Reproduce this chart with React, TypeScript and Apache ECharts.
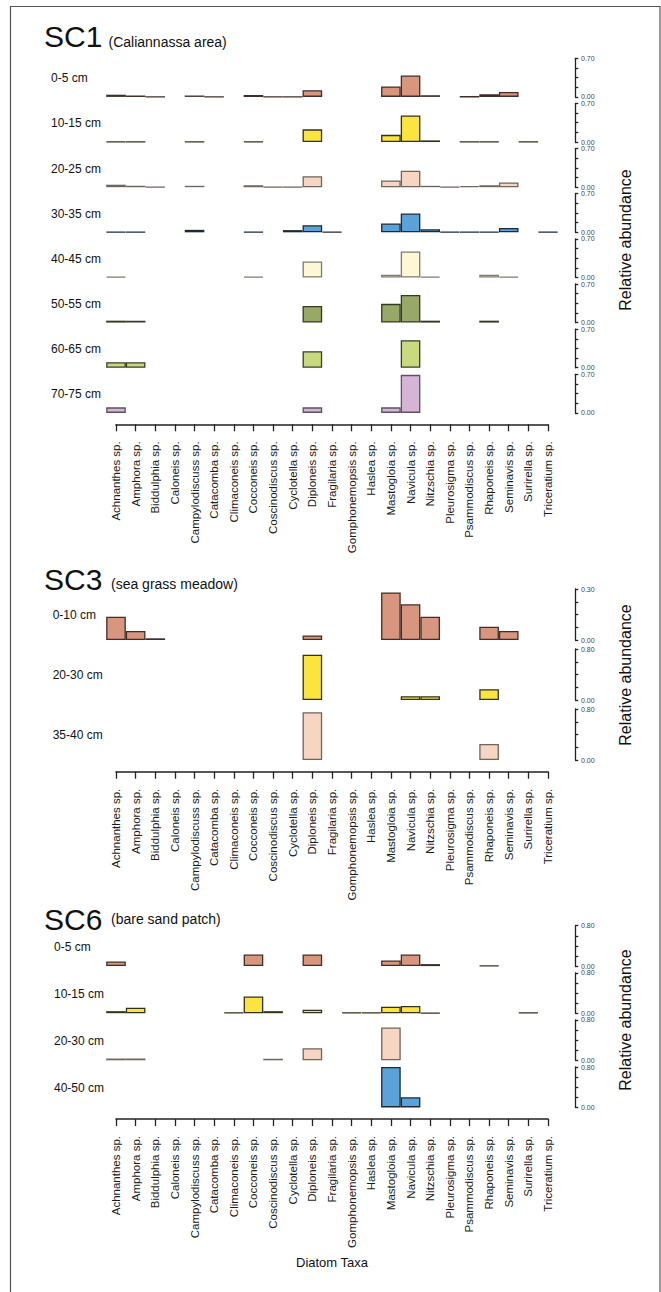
import React, { useEffect, useRef } from "react";
import * as echarts from "echarts";

const taxa = [
  "Achnanthes sp.", "Amphora sp.", "Biddulphia sp.", "Caloneis sp.", "Campylodiscuss sp.",
  "Catacomba sp.", "Climaconeis sp.", "Cocconeis sp.", "Coscinodiscus sp.", "Cyclotella sp.",
  "Diploneis sp.", "Fragilaria sp.", "Gomphonemopsis sp.", "Haslea sp.", "Mastogloia sp.",
  "Navicula sp.", "Nitzschia sp.", "Pleurosigma sp.", "Psammodiscus sp.", "Rhaponeis sp.",
  "Seminavis sp.", "Surirella sp.", "Triceratium sp.",
];

const n = null;

// SC1 (Caliannassa area)
const sc1Depths = ["0-5 cm", "10-15 cm", "20-25 cm", "30-35 cm", "40-45 cm", "50-55 cm", "60-65 cm", "70-75 cm"];
const sc1_0_5 = [0.04, 0.025, 0.003, n, 0.025, 0.003, n, 0.035, 0.003, 0.003, 0.12, n, n, n, 0.19, 0.39, 0.03, n, 0.005, 0.05, 0.09, n, n];
const sc1_10_15 = [0.008, 0.003, n, n, 0.003, n, n, 0.008, n, n, 0.23, n, n, n, 0.13, 0.48, 0.03, n, 0.003, 0.003, n, 0.003, n];
const sc1_20_25 = [0.045, 0.025, 0.005, n, 0.025, n, n, 0.035, 0.005, 0.005, 0.2, n, n, n, 0.12, 0.3, 0.025, 0.005, 0.02, 0.035, 0.085, n, n];
const sc1_30_35 = [0.008, 0.008, n, n, 0.045, n, n, 0.008, n, 0.04, 0.13, 0.008, n, n, 0.16, 0.34, 0.055, 0.008, 0.008, 0.008, 0.08, n, 0.008];
const sc1_40_45 = [0.012, n, n, n, n, n, n, 0.012, n, n, 0.29, n, n, n, 0.05, 0.47, 0.012, n, n, 0.05, 0.015, n, n];
const sc1_50_55 = [0.035, 0.035, n, n, n, n, n, n, n, n, 0.3, n, n, n, 0.34, 0.5, 0.035, n, n, 0.035, n, n, n];
const sc1_60_65 = [0.1, 0.1, n, n, n, n, n, n, n, n, 0.3, n, n, n, n, 0.5, n, n, n, n, n, n, n];
const sc1_70_75 = [0.1, n, n, n, n, n, n, n, n, n, 0.1, n, n, n, 0.1, 0.69, n, n, n, n, n, n, n];

// SC3 (sea grass meadow)
const sc3Depths = ["0-10 cm", "20-30 cm", "35-40 cm"];
const sc3_0_10 = [0.137, 0.053, 0.01, n, n, n, n, n, n, n, 0.027, n, n, n, 0.28, 0.21, 0.137, n, n, 0.078, 0.053, n, n];
const sc3_20_30 = [n, n, n, n, n, n, n, n, n, n, 0.71, n, n, n, n, 0.06, 0.06, n, n, 0.17, n, n, n];
const sc3_35_40 = [n, n, n, n, n, n, n, n, n, n, 0.75, n, n, n, n, n, n, n, n, 0.25, n, n, n];

// SC6 (bare sand patch)
const sc6Depths = ["0-5 cm", "10-15 cm", "20-30 cm", "40-50 cm"];
const sc6_0_5 = [0.09, n, n, n, n, n, n, 0.23, n, n, 0.23, n, n, n, 0.11, 0.23, 0.04, n, n, 0.01, n, n, n];
const sc6_10_15 = [0.04, 0.11, n, n, n, n, 0.01, 0.33, 0.04, n, 0.067, n, 0.01, 0.01, 0.13, 0.145, 0.005, n, n, n, n, 0.01, n];
const sc6_20_30 = [0.035, 0.035, n, n, n, n, n, n, 0.03, n, 0.24, n, n, n, 0.65, n, n, n, n, n, n, n, n];
const sc6_40_50 = [n, n, n, n, n, n, n, n, n, n, n, n, n, n, 0.8, 0.2, n, n, n, n, n, n, n];

const yMaxSC1 = 0.7;
const yMaxSC3 = [0.3, 0.8, 0.8];
const yMaxSC6 = 0.8;

const FILL = {
  salmon: "#d9967e",
  yellow: "#fbe43d",
  peach: "#f6d5c2",
  blue: "#5aa3d9",
  cream: "#fdf7d6",
  olive: "#97a867",
  lgreen: "#c9d97f",
  lilac: "#d4b5d6",
};
const EDGE = {
  salmon: "#3f2e2a",
  yellow: "#33301c",
  peach: "#6f645e",
  blue: "#1c2a38",
  cream: "#7f7b6e",
  olive: "#343a24",
  lgreen: "#383e2b",
  lilac: "#5f5161",
};

const FONT = "'Liberation Sans', Arial, Helvetica, sans-serif";

export default function App() {
  const ref = useRef<HTMLDivElement>(null);

  useEffect(() => {
    if (!ref.current) return;
    const chart = echarts.init(ref.current, null, { renderer: "svg" });

    const L = 106.18;
    const W = 451.64;
    const axisX0 = 116;
    const axisW = 432;
    const yOffset = 575 - (L + W);

    const grids: any[] = [];
    const xAxes: any[] = [];
    const yAxes: any[] = [];
    const series: any[] = [];
    const graphics: any[] = [];

    const addRow = (data: (number | null)[], top: number, height: number, max: number, key: string) => {
      const gi = grids.length;
      grids.push({ left: L, width: W, top, height, containLabel: false });
      xAxes.push({ gridIndex: gi, type: "category", data: taxa, show: false });
      yAxes.push({
        gridIndex: gi,
        type: "value",
        position: "right",
        offset: yOffset,
        min: 0,
        max,
        interval: max / 4,
        axisLine: { show: true, lineStyle: { color: "#222", width: 1.3 } },
        axisTick: { show: true, inside: false, length: 3.3, lineStyle: { color: "#222", width: 1.3 } },
        splitLine: { show: false },
        axisLabel: {
          margin: 6,
          fontSize: 7,
          color: "#444",
          fontFamily: FONT,
          formatter: (v: number) => (v === 0 || Math.abs(v - max) < 1e-9 ? v.toFixed(2) : ""),
        },
      });
      series.push({
        type: "bar",
        xAxisIndex: gi,
        yAxisIndex: gi,
        barCategoryGap: "0%",
        data: data.map((v) => (v == null ? "-" : v)),
        itemStyle: { color: (FILL as any)[key], borderColor: (EDGE as any)[key], borderWidth: 1.3 },
        emphasis: { disabled: true },
      });
    };

    const addAxis = (y: number) => {
      const gi = grids.length;
      grids.push({ left: axisX0, width: axisW, top: y - 10, height: 10 });
      xAxes.push({
        gridIndex: gi,
        type: "category",
        data: taxa,
        boundaryGap: false,
        axisLine: { show: true, lineStyle: { color: "#222", width: 1.6 } },
        axisTick: { show: true, inside: false, length: 7, lineStyle: { color: "#222", width: 1.3 } },
        axisLabel: { interval: 0, rotate: 90, margin: 17, fontSize: 11.5, color: "#1a1a1a", fontFamily: FONT },
      });
      yAxes.push({ gridIndex: gi, type: "value", show: false });
    };

    const text = (t: string, x: number, y: number, size: number, extra: any = {}) => {
      graphics.push({
        type: "text",
        x,
        y,
        ...extra,
        style: {
          text: t,
          fontSize: size,
          fontFamily: FONT,
          fill: "#111",
          align: extra.align || "left",
          verticalAlign: "middle",
        },
      });
    };

    // SC1
    const sc1Data = [sc1_0_5, sc1_10_15, sc1_20_25, sc1_30_35, sc1_40_45, sc1_50_55, sc1_60_65, sc1_70_75];
    const sc1Keys = ["salmon", "yellow", "peach", "blue", "cream", "olive", "lgreen", "lilac"];
    sc1Data.forEach((d, i) => {
      const top = 58.3 + 45.14 * i;
      addRow(d, top, 38.6, yMaxSC1, sc1Keys[i]);
      text(sc1Depths[i], 51, top + 20, 12);
    });
    addAxis(424.3);

    // SC3
    const sc3Data = [sc3_0_10, sc3_20_30, sc3_35_40];
    const sc3Keys = ["salmon", "yellow", "peach"];
    sc3Data.forEach((d, i) => {
      const top = 589 + 60 * i;
      addRow(d, top, 51, yMaxSC3[i], sc3Keys[i]);
      text(sc3Depths[i], 52.7, top + 26, 12);
    });
    addAxis(771.7);

    // SC6
    const sc6Data = [sc6_0_5, sc6_10_15, sc6_20_30, sc6_40_50];
    const sc6Keys = ["salmon", "yellow", "peach", "blue"];
    sc6Data.forEach((d, i) => {
      const top = 925.7 + 47.1 * i;
      addRow(d, top, 40.4, yMaxSC6, sc6Keys[i]);
      text(sc6Depths[i], 54, top + 21, 12);
    });
    addAxis(1119);

    // titles
    text("SC1", 44, 36.5, 30);
    text("(Caliannassa area)", 108.5, 41.6, 14);
    text("SC3", 44, 579.5, 30);
    text("(sea grass meadow)", 111, 583.5, 14);
    text("SC6", 44, 919.5, 30);
    text("(bare sand patch)", 111, 919.2, 14);

    // side titles
    text("Relative abundance", 625, 240, 16, { rotation: Math.PI / 2, align: "center" });
    text("Relative abundance", 625, 675, 16, { rotation: Math.PI / 2, align: "center" });
    text("Relative abundance", 625, 1020, 16, { rotation: Math.PI / 2, align: "center" });
    text("Diatom Taxa", 332, 1262.7, 13, { align: "center" });

    // frame
    graphics.unshift({
      type: "rect",
      shape: { x: 10.5, y: 6.5, width: 649.5, height: 1300 },
      style: { fill: "none", stroke: "#555", lineWidth: 1.2 },
      silent: true,
    });

    chart.setOption({
      animation: false,
      backgroundColor: "#fff",
      grid: grids,
      xAxis: xAxes,
      yAxis: yAxes,
      series,
      graphic: graphics,
    });

    return () => chart.dispose();
  }, []);

  return (
    <div
      ref={ref}
      style={{ position: "absolute", left: 0, top: 0, width: 661, height: 1292 }}
    />
  );
}
